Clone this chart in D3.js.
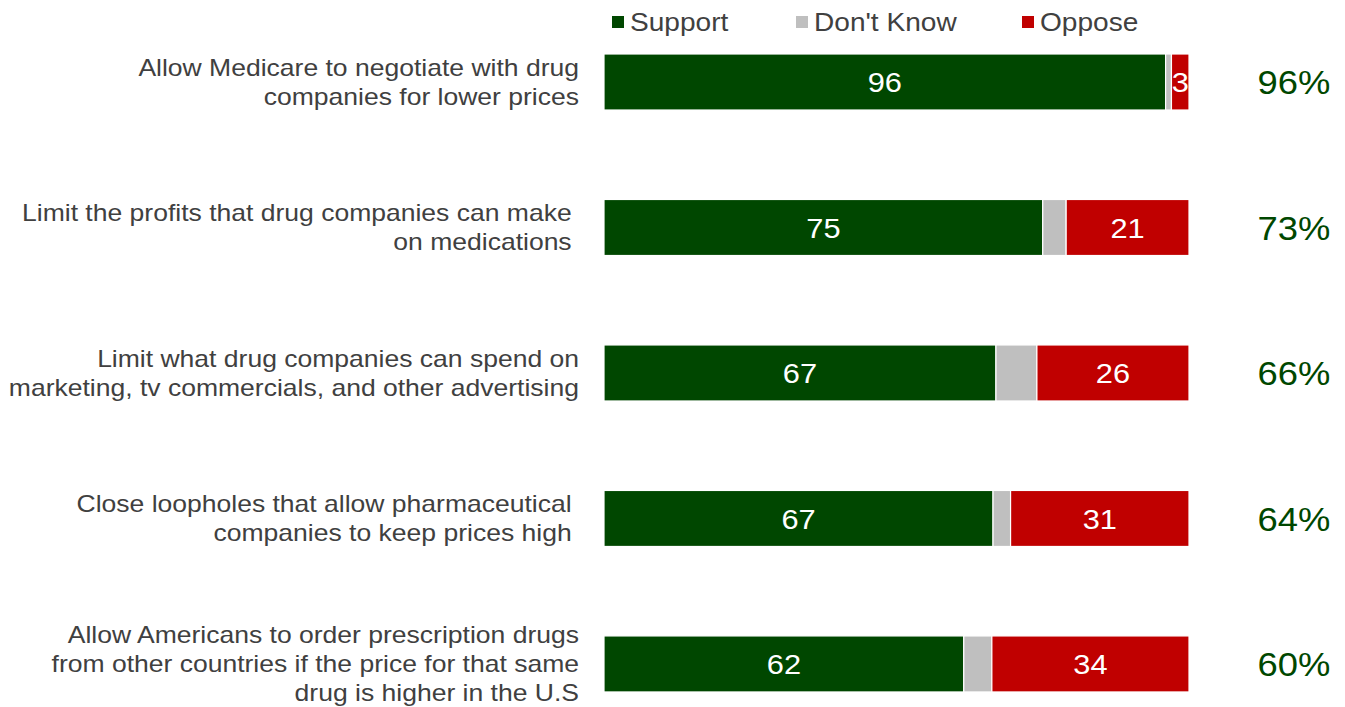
<!DOCTYPE html>
<html><head><meta charset="utf-8">
<script src="https://cdn.jsdelivr.net/npm/d3@7"></script>
<style>body{margin:0;background:#fff}svg{display:block}text{font-family:Arial,"Liberation Sans",sans-serif}</style>
</head><body><svg id="c" width="1345" height="707"></svg>
<script>
const categories = [
  ["Allow Medicare to negotiate with drug", "companies for lower prices"],
  ["Limit the profits that drug companies can make ", "on medications "],
  ["Limit what drug companies can spend on", "marketing, tv commercials, and other advertising"],
  ["Close loopholes that allow pharmaceutical ", "companies to keep prices high "],
  ["Allow Americans to order prescription drugs", "from other countries if the price for that same", "drug is higher in the U.S"]
];
const support = [96, 75, 67, 66.5, 61.5];
const dontKnow = [1, 4, 7, 3, 4.8];
const oppose = [3, 21, 26, 30.5, 33.7];
const net = ["96%", "73%", "66%", "64%", "60%"];
const seriesNames = ["Support", "Don't Know", "Oppose"];
const colors = ["#004700", "#bfbfbf", "#c00000"];

const svg = d3.select("#c");
const x = d3.scaleLinear().domain([0, 100]).range([604, 1189]);
const y = d3.scaleBand().domain(d3.range(categories.length)).range([10.35, 735.6]).paddingInner(0.615).paddingOuter(0.3);

const rows = categories.map((c, i) => ({i, vals: [support[i], dontKnow[i], oppose[i]]}));
rows.forEach(r => {
  let acc = 0;
  r.segs = r.vals.map((v, k) => { const s = {k, x0: acc, x1: acc + v, v}; acc += v; return s; });
});

const g = svg.selectAll("g.row").data(rows).enter().append("g").attr("class", "row");
g.selectAll("rect").data(d => d.segs.map(s => ({...s, i: d.i}))).enter().append("rect")
  .attr("x", s => x(s.x0)).attr("width", s => x(s.x1) - x(s.x0))
  .attr("y", s => y(s.i)).attr("height", y.bandwidth())
  .attr("fill", s => colors[s.k]).attr("stroke", "#fff").attr("stroke-width", 1.2);

g.selectAll("text.val").data(d => d.segs.filter(s => s.k !== 1).map(s => ({...s, i: d.i}))).enter().append("text")
  .attr("class", "val")
  .attr("transform", s => `translate(${(x(s.x0) + x(s.x1)) / 2},${y(s.i) + y.bandwidth() / 2}) scale(1.1,1)`)
  .attr("dy", "0.36em").attr("text-anchor", "middle")
  .attr("fill", "#fff").attr("font-size", 28)
  .text(s => Math.round(s.v));

// category labels
const lh = 29;
svg.selectAll("g.cat").data(categories).enter().append("g").attr("class", "cat")
  .attr("transform", (d, i) => `translate(579,${y(i) + y.bandwidth() / 2}) scale(1.105,1)`)
  .append("text").attr("text-anchor", "end").attr("fill", "#404040").attr("font-size", 24)
  .style("white-space", "pre")
  .each(function(lines) {
    const t = d3.select(this);
    lines.forEach((ln, j) => {
      t.append("tspan").attr("x", 0).attr("y", (j - (lines.length - 1) / 2) * lh).attr("dy", "0.35em").text(ln);
    });
  });

// net labels
svg.selectAll("text.net").data(net).enter().append("text")
  .attr("class", "net")
  .attr("transform", (d, i) => `translate(1294,${y(i) + y.bandwidth() / 2}) scale(1.07,1)`)
  .attr("dy", "0.36em").attr("text-anchor", "middle").attr("fill", "#004700").attr("font-size", 34)
  .text(d => d);

// legend
const legX = [612, 796, 1022];
const leg = svg.selectAll("g.leg").data(seriesNames).enter().append("g").attr("class", "leg")
  .attr("transform", (d, i) => `translate(${legX[i]},22)`);
leg.append("rect").attr("x", 0).attr("y", -6).attr("width", 12).attr("height", 12).attr("fill", (d, i) => colors[i]);
leg.append("text").attr("transform", "translate(18,0) scale(1.08,1)").attr("dy", "0.36em").attr("fill", "#404040").attr("font-size", 26).text(d => d);
</script></body></html>
